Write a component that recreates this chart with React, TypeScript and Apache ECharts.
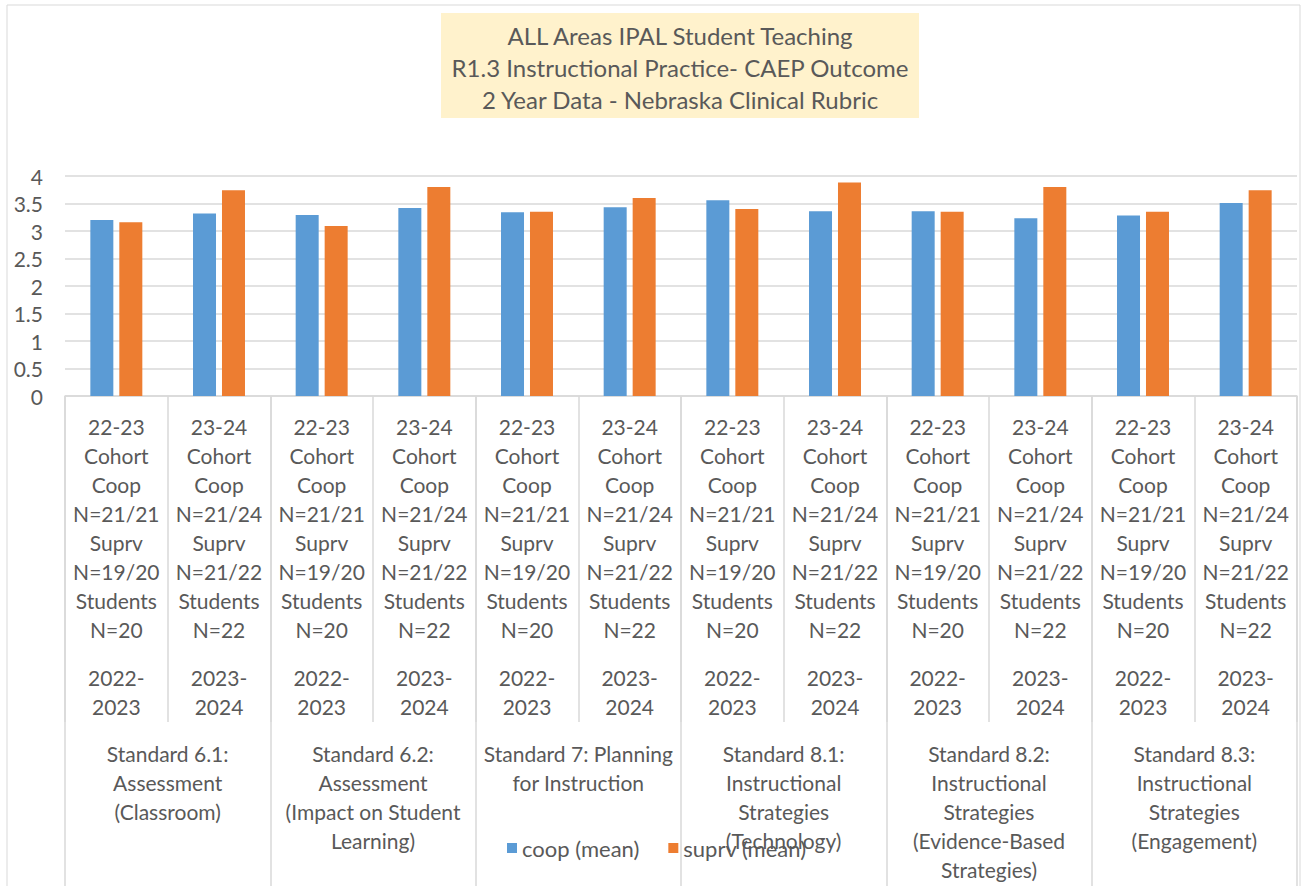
import React, { useEffect, useRef } from "react";
import * as echarts from "echarts";

const cohortLabels: string[] = [
  "22-23\nCohort\nCoop\nN=21/21\nSuprv\nN=19/20\nStudents\nN=20",
  "23-24\nCohort\nCoop\nN=21/24\nSuprv\nN=21/22\nStudents\nN=22",
  "22-23\nCohort\nCoop\nN=21/21\nSuprv\nN=19/20\nStudents\nN=20",
  "23-24\nCohort\nCoop\nN=21/24\nSuprv\nN=21/22\nStudents\nN=22",
  "22-23\nCohort\nCoop\nN=21/21\nSuprv\nN=19/20\nStudents\nN=20",
  "23-24\nCohort\nCoop\nN=21/24\nSuprv\nN=21/22\nStudents\nN=22",
  "22-23\nCohort\nCoop\nN=21/21\nSuprv\nN=19/20\nStudents\nN=20",
  "23-24\nCohort\nCoop\nN=21/24\nSuprv\nN=21/22\nStudents\nN=22",
  "22-23\nCohort\nCoop\nN=21/21\nSuprv\nN=19/20\nStudents\nN=20",
  "23-24\nCohort\nCoop\nN=21/24\nSuprv\nN=21/22\nStudents\nN=22",
  "22-23\nCohort\nCoop\nN=21/21\nSuprv\nN=19/20\nStudents\nN=20",
  "23-24\nCohort\nCoop\nN=21/24\nSuprv\nN=21/22\nStudents\nN=22",
];

const yearLabels: string[] = [
  "2022-\n2023", "2023-\n2024", "2022-\n2023", "2023-\n2024",
  "2022-\n2023", "2023-\n2024", "2022-\n2023", "2023-\n2024",
  "2022-\n2023", "2023-\n2024", "2022-\n2023", "2023-\n2024",
];

const standardLabels: string[] = [
  "Standard 6.1:\nAssessment\n(Classroom)",
  "Standard 6.2:\nAssessment\n(Impact on Student\nLearning)",
  "Standard 7: Planning\nfor Instruction",
  "Standard 8.1:\nInstructional\nStrategies\n(Technology)",
  "Standard 8.2:\nInstructional\nStrategies\n(Evidence-Based\nStrategies)",
  "Standard 8.3:\nInstructional\nStrategies\n(Engagement)",
];

const coopMean: number[] = [3.2, 3.32, 3.29, 3.42, 3.34, 3.43, 3.56, 3.36, 3.36, 3.23, 3.28, 3.51];
const suprvMean: number[] = [3.16, 3.74, 3.09, 3.8, 3.35, 3.6, 3.4, 3.88, 3.35, 3.8, 3.35, 3.74];

const titleLines: string[] = [
  "ALL Areas IPAL Student Teaching",
  "R1.3 Instructional Practice- CAEP Outcome",
  "2 Year Data - Nebraska Clinical Rubric",
];

const FONT = "Lato, 'Open Sans', sans-serif";
const TXT = "#595959";
const LINE = "#d9d9d9";

export default function App() {
  const ref = useRef<HTMLDivElement>(null);

  useEffect(() => {
    if (!ref.current) return;
    const chart = echarts.init(ref.current, null, { renderer: "svg" });
    const gridBottom = 490;
    chart.setOption({
      animation: false,
      backgroundColor: "#ffffff",
      textStyle: { fontFamily: FONT, color: TXT },
      graphic: [
        {
          type: "rect",
          shape: { x: 7, y: 5, width: 1293, height: 900 },
          style: { fill: "none", stroke: LINE, lineWidth: 1 },
          silent: true,
        },
        {
          type: "rect",
          shape: { x: 441, y: 13, width: 478, height: 105 },
          style: { fill: "#FFF2CC" },
          silent: true,
        },
        ...titleLines.map((t, i) => ({
          type: "text",
          x: 680,
          y: 35 + i * 32,
          style: {
            text: t,
            fill: TXT,
            font: `24px ${FONT}`,
            textAlign: "center",
            textVerticalAlign: "middle",
          },
          silent: true,
        })),
      ],
      legend: {
        data: ["coop (mean)", "suprv (mean)"],
        left: 502,
        top: 832,
        icon: "rect",
        itemWidth: 10,
        itemHeight: 10,
        itemGap: 29,
        textStyle: { fontFamily: FONT, fontSize: 22, color: TXT },
      },
      grid: { left: 65, right: 10, top: 176, bottom: gridBottom, containLabel: false },
      xAxis: [
        {
          type: "category",
          position: "bottom",
          data: cohortLabels,
          axisLine: { show: true, lineStyle: { color: LINE, width: 1.5 } },
          axisTick: { show: true, interval: 0, length: 326, lineStyle: { color: LINE, width: 1.5 } },
          axisLabel: {
            interval: 0,
            margin: 15.5,
            fontFamily: FONT,
            fontSize: 21,
            lineHeight: 29,
            color: TXT,
            align: "center",
          },
        },
        {
          type: "category",
          position: "bottom",
          data: yearLabels,
          axisLine: { show: false },
          axisTick: { show: false },
          axisLabel: {
            interval: 0,
            margin: 266.5,
            fontFamily: FONT,
            fontSize: 21,
            lineHeight: 29,
            color: TXT,
            align: "center",
          },
        },
        {
          type: "category",
          position: "bottom",
          data: standardLabels,
          axisLine: { show: false },
          axisTick: { show: true, interval: 0, length: 490, lineStyle: { color: LINE, width: 1.5 } },
          axisLabel: {
            interval: 0,
            margin: 342.5,
            fontFamily: FONT,
            fontSize: 21,
            lineHeight: 29,
            color: TXT,
            align: "center",
          },
        },
      ],
      yAxis: {
        type: "value",
        min: 0,
        max: 4,
        interval: 0.5,
        axisLine: { show: false },
        axisTick: { show: false },
        splitLine: { show: true, lineStyle: { color: LINE, width: 1.5 } },
        axisLabel: { fontFamily: FONT, fontSize: 21, color: TXT, margin: 22 },
      },
      series: [
        {
          name: "coop (mean)",
          type: "bar",
          xAxisIndex: 0,
          data: coopMean,
          barWidth: 23,
          barGap: "26%",
          itemStyle: { color: "#5B9BD5" },
        },
        {
          name: "suprv (mean)",
          type: "bar",
          xAxisIndex: 0,
          data: suprvMean,
          barWidth: 23,
          barGap: "26%",
          itemStyle: { color: "#ED7D31" },
        },
      ],
    });
    return () => chart.dispose();
  }, []);

  return (
    <div
      ref={ref}
      style={{ position: "fixed", left: 0, top: 0, width: 1307, height: 886, background: "#fff" }}
    />
  );
}
